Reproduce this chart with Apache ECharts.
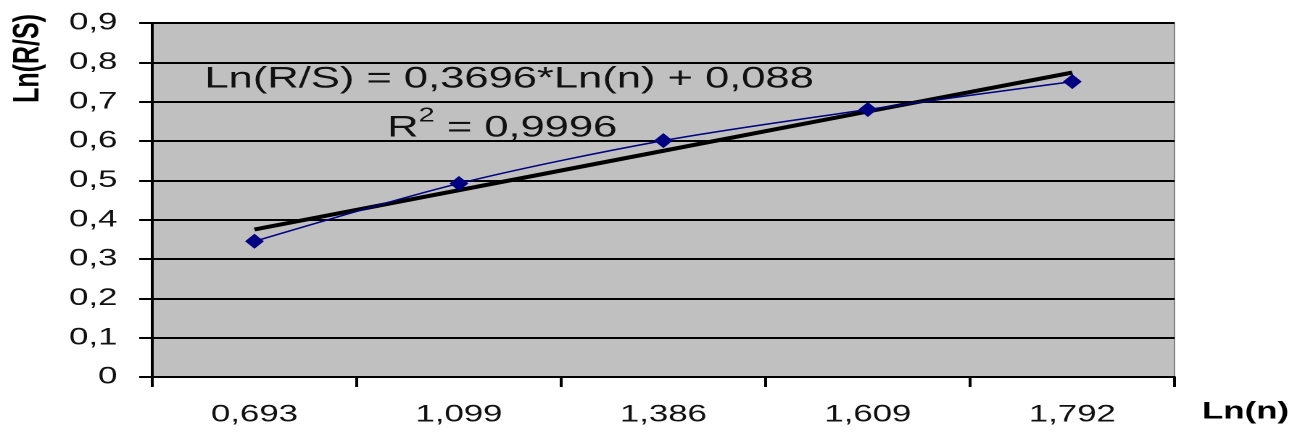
<!DOCTYPE html>
<html>
<head>
<meta charset="utf-8">
<script src="https://cdn.jsdelivr.net/npm/echarts@6/dist/echarts.min.js"></script>
<style>
  html, body { margin: 0; padding: 0; background: #fff; overflow: hidden; }
  #wrap { width: 1302px; height: 436px; overflow: hidden; }
  #chart { width: 898px; height: 436px; transform: scaleX(1.45); transform-origin: 0 0; }
</style>
</head>
<body>
<div id="wrap"><div id="chart"></div></div>
<script>
// ---- data ----
const categories = ['0,693', '1,099', '1,386', '1,609', '1,792'];
const rsValues = [0.345, 0.492, 0.601, 0.680, 0.751];
const trendValues = [0.375, 0.475, 0.575, 0.675, 0.774];
const yAxisTitle = 'Ln(R/S)';
const xAxisTitle = 'Ln(n)';
const equationText = 'Ln(R/S) = 0,3696*Ln(n) + 0,088';
const r2Value = '0,9996';

const FONT = '"Liberation Sans", Arial, sans-serif';
const chart = echarts.init(document.getElementById('chart'), null, { renderer: 'canvas', devicePixelRatio: 2 });

chart.setOption({
  animation: false,
  backgroundColor: '#ffffff',
  grid: {
    left: 105, right: 88, top: 23, bottom: 59,
    containLabel: false,
    show: true,
    backgroundColor: '#c0c0c0',
    borderColor: '#808080',
    borderWidth: 1
  },
  xAxis: {
    type: 'category',
    data: categories,
    boundaryGap: true,
    axisLine: { show: true, lineStyle: { color: '#000', width: 2 } },
    axisTick: { show: true, length: 10, lineStyle: { color: '#000', width: 2 } },
    axisLabel: { color: '#111', fontFamily: FONT, fontSize: 24, margin: 26 },
    splitLine: { show: false }
  },
  yAxis: {
    type: 'value',
    min: 0, max: 0.9, interval: 0.1,
    axisLine: { show: true, lineStyle: { color: '#000', width: 2 } },
    axisTick: { show: true, length: 9, lineStyle: { color: '#000', width: 2 } },
    axisLabel: {
      color: '#111', fontFamily: FONT, fontSize: 24, margin: 24,
      formatter: v => (v === 0 ? '0' : v.toFixed(1).replace('.', ','))
    },
    splitLine: { show: true, lineStyle: { color: '#000', width: 2 } }
  },
  series: [
    {
      type: 'line',
      data: trendValues,
      symbol: 'none',
      lineStyle: { color: '#000', width: 4 },
      z: 2
    },
    {
      type: 'line',
      data: rsValues,
      smooth: 0.3,
      symbol: 'diamond',
      symbolSize: [13, 15],
      itemStyle: { color: '#000080' },
      lineStyle: { color: '#000080', width: 1.5 },
      z: 3
    }
  ],
  graphic: [
    {
      type: 'text', left: 7, top: 14,
      rotation: Math.PI / 2,
      style: { text: yAxisTitle, font: 'bold 25px ' + FONT, fill: '#000' },
      originX: 0, originY: 0
    },
    {
      type: 'text', left: 829, top: 400,
      style: { text: xAxisTitle, font: 'bold 24px ' + FONT, fill: '#000' }
    },
    {
      type: 'text', left: 141, top: 64,
      style: { text: equationText, font: '30px ' + FONT, fill: '#111' }
    },
    {
      type: 'text', left: 267, top: 106,
      style: {
        text: '{a|R}{s|2}{a| = ' + r2Value + '}',
        rich: {
          a: { font: '30px ' + FONT, fill: '#111', color: '#111', verticalAlign: 'bottom' },
          s: { font: '20px ' + FONT, fill: '#111', color: '#111', verticalAlign: 'top', padding: [0, 0, 17, 0] }
        }
      }
    }
  ]
});
</script>
</body>
</html>
